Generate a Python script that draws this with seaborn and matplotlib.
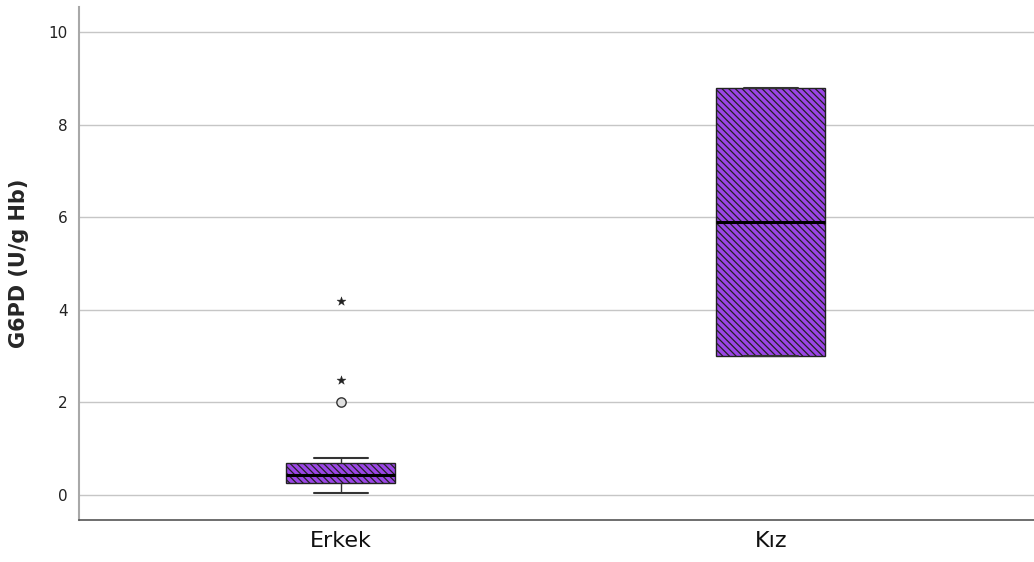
import matplotlib
matplotlib.use("Agg")
import matplotlib.pyplot as plt
import seaborn as sns
import pandas as pd

# Group labels
groups = ["Erkek", "Kız"]

# Five-number summaries per group: whisker low, Q1, median, Q3, whisker high
erkek_summary = [0.05, 0.25, 0.43, 0.70, 0.79]
kiz_summary = [3.0, 3.0, 5.9, 8.8, 8.8]

# Outliers (Erkek): mild outliers drawn as circles, extreme ones as stars
erkek_mild = [2.0]
erkek_extreme = [2.48, 4.2]

sns.set_theme(style="white")
plt.rcParams["font.family"] = ["DejaVu Sans"]
plt.rcParams["hatch.linewidth"] = 0.9
plt.rcParams["hatch.color"] = "#1a1a1a"

df = pd.DataFrame({
    "grup": [groups[0]] * len(erkek_summary) + [groups[1]] * len(kiz_summary),
    "deger": erkek_summary + kiz_summary,
})

fig = plt.figure(figsize=(10.34, 5.62), dpi=100)
ax = fig.add_axes([0.0764, 0.0747, 0.9236, 0.9128])

ax.set_axisbelow(True)
ax.yaxis.grid(True, color="#c6c6c6", linewidth=1.0)

purple = "#9b45e6"
sns.boxplot(
    data=df, x="grup", y="deger", order=groups, ax=ax,
    width=0.253, whis=10, showfliers=False,
    color=purple, saturation=1,
    linecolor="#222222", linewidth=1.0,
    medianprops=dict(color="black", linewidth=2.2),
    whiskerprops=dict(color="#333333", linewidth=1.0),
    capprops=dict(color="#333333", linewidth=1.5),
    capwidths=0.126,
)
for patch in ax.patches:
    patch.set_hatch("\\\\\\\\\\")
    patch.set_edgecolor("#222222")

out_mild = pd.DataFrame({"grup": [groups[0]] * len(erkek_mild), "deger": erkek_mild})
out_ext = pd.DataFrame({"grup": [groups[0]] * len(erkek_extreme), "deger": erkek_extreme})
sns.scatterplot(data=out_mild, x="grup", y="deger", ax=ax, marker="o", s=45,
                facecolor="#e0e0e0", edgecolor="#333333", linewidth=1.0, zorder=5)
sns.scatterplot(data=out_ext, x="grup", y="deger", ax=ax, marker="*", s=45,
                color="#222222", edgecolor="#222222", linewidth=0.3, zorder=5)

ax.set_xlim(-0.609, 1.612)
ax.set_ylim(-0.54, 10.54)
ax.set_yticks([0, 2, 4, 6, 8, 10])
ax.tick_params(axis="y", labelsize=11, length=0, pad=8, colors="#222222")
ax.tick_params(axis="x", labelsize=16, length=0, pad=8, colors="#111111")
ax.set_xlabel("")
ax.set_ylabel("G6PD (U/g Hb)", fontsize=15, fontweight="bold", labelpad=14)

for side in ["top", "right"]:
    ax.spines[side].set_visible(False)
ax.spines["left"].set_color("#a8a8a8")
ax.spines["left"].set_linewidth(1.5)
ax.spines["bottom"].set_color("#555555")
ax.spines["bottom"].set_linewidth(1.2)

fig.savefig("out.png", dpi=100)
